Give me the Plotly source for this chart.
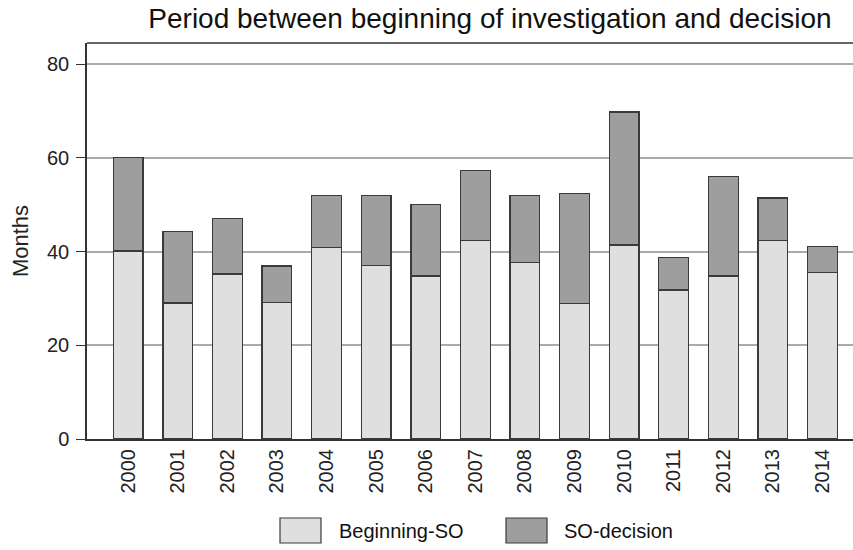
import plotly.graph_objects as go

years = ["2000", "2001", "2002", "2003", "2004", "2005", "2006", "2007",
         "2008", "2009", "2010", "2011", "2012", "2013", "2014"]
beginning_so = [40.1, 29.0, 35.2, 29.1, 40.9, 37.0, 34.8, 42.3,
                37.7, 28.9, 41.4, 31.8, 34.8, 42.3, 35.5]
totals = [60.0, 44.3, 47.1, 36.9, 52.0, 51.9, 50.0, 57.3,
          52.0, 52.4, 69.8, 38.8, 56.0, 51.4, 41.1]
so_decision = [round(t - b, 1) for t, b in zip(totals, beginning_so)]
series_names = ["Beginning-SO", "SO-decision"]
y_ticks = [0, 20, 40, 60, 80]

light = "#dfdfdf"
dark = "#9e9e9e"
edge = "#3a3a3a"
font_family = "Liberation Sans, Arial, sans-serif"

fig = go.Figure()
fig.add_trace(go.Bar(x=years, y=beginning_so, name=series_names[0],
                     marker=dict(color=light, line=dict(color=edge, width=1.3)),
                     width=0.6, showlegend=False))
fig.add_trace(go.Bar(x=years, y=so_decision, name=series_names[1],
                     marker=dict(color=dark, line=dict(color=edge, width=1.3)),
                     width=0.6, showlegend=False))

fig.update_layout(
    barmode="stack",
    width=853, height=550,
    margin=dict(l=87, r=0, t=43, b=111, autoexpand=False),
    paper_bgcolor="white", plot_bgcolor="white",
    font=dict(family=font_family, color="#222222"),
    title=dict(text="Period between beginning of investigation and decision",
               x=490 / 853, xanchor="center", y=1 - 18 / 550, yanchor="middle",
               font=dict(size=28, color="#111111")),
    xaxis=dict(type="category", range=[-0.83, 14.615],
               tickangle=-90, tickfont=dict(size=20),
               showgrid=False, showline=True, linecolor="#333333", linewidth=2,
               ticks="", mirror=False),
    yaxis=dict(range=[0, 84.5], tickvals=y_ticks, tickfont=dict(size=20),
               showgrid=True, gridcolor="#aaaaaa", gridwidth=1.5,
               showline=True, linecolor="#333333", linewidth=1.5,
               ticks="outside", ticklen=9, tickcolor="#333333", ticklabelstandoff=3,
               title=dict(text="Months", font=dict(size=22), standoff=12),
               zeroline=False),
)

# top border of the plot frame
fig.add_shape(type="line", xref="paper", yref="paper", x0=0, x1=1, y0=1, y1=1,
              line=dict(color="#333333", width=1.5))

# legend drawn as boxes + labels
legend_items = [(series_names[0], light, 280, 337), (series_names[1], dark, 506, 562)]
W = 853
for name, col, bx, tx in legend_items:
    fig.add_shape(type="rect", xref="paper", yref="paper",
                  x0=(bx - 87) / (W - 87), x1=(bx + 41 - 87) / (W - 87),
                  y0=-(543 - 439) / (439 - 43), y1=-(518 - 439) / (439 - 43),
                  fillcolor=col, line=dict(color=edge, width=1.2))
    fig.add_annotation(text=name, xref="paper", yref="paper",
                       x=(tx - 87) / (W - 87), y=-(531 - 439) / (439 - 43),
                       xanchor="left", yanchor="middle", showarrow=False,
                       font=dict(size=20, color="#111111"))

fig.write_html("out.html", config={"displayModeBar": False},
               post_script="document.body.style.margin='0';")
